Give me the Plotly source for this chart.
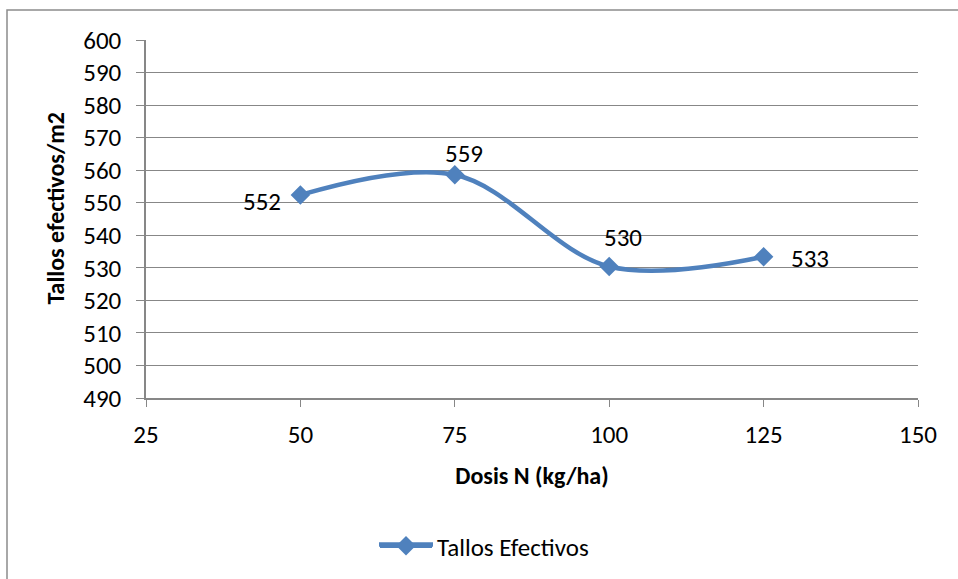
import plotly.graph_objects as go

# Data: nitrogen dose vs. effective tillers per m2
dosis = [50, 75, 100, 125]
tallos = [552.4, 558.6, 530.4, 533.4]
etiquetas = ["552", "559", "530", "533"]
y_ticks = list(range(490, 601, 10))
x_ticks = [25, 50, 75, 100, 125, 150]

# label offsets (pixels) around each point
label_dx = [-38, 9, 14, 46]
label_dy = [-7, 21, 29, -2]

W, H = 958, 579
L, R, T, B = 146, 40, 40, 180
pw, ph = W - L - R, H - T - B

FONT = "Carlito, Lato, sans-serif"
BLUE = "#4F81BD"
GRID = "#878787"
FS = 25

fig = go.Figure()
fig.add_trace(go.Scatter(
    x=dosis, y=tallos, mode="lines+markers", name="Tallos Efectivos",
    line=dict(color=BLUE, width=4.5, shape="spline", smoothing=1.0),
    marker=dict(symbol="diamond", size=15, color=BLUE),
))

for xv, yv, t, dx, dy in zip(dosis, tallos, etiquetas, label_dx, label_dy):
    fig.add_annotation(x=xv, y=yv, text=t, showarrow=False,
                       xshift=dx, yshift=dy,
                       font=dict(family=FONT, size=FS, color="#000000"))

# y-axis title, placed as a rotated annotation
fig.add_annotation(xref="paper", yref="paper",
                   x=(56 - L) / pw, y=1 - (209 - T) / ph,
                   xanchor="center", yanchor="middle", textangle=-90,
                   text="<b>Tallos efectivos/m2</b>", showarrow=False,
                   font=dict(family=FONT, size=24, color="#000000"))

# outer chart border (open to the right and bottom)
fig.add_shape(type="rect", xref="paper", yref="paper",
              x0=(7 - L) / pw, x1=(W + 20 - L) / pw,
              y0=-(H + 20 - T - ph) / ph, y1=1 + (T - 10) / ph,
              line=dict(color="#8C8C8C", width=1.5), fillcolor="rgba(0,0,0,0)",
              layer="below")

# longer legend key line, as in the spreadsheet style
legend_y = -(546 - T - ph) / ph
fig.add_shape(type="line", xref="paper", yref="paper",
              x0=(379 - L) / pw, x1=(433 - L) / pw, y0=legend_y, y1=legend_y,
              line=dict(color=BLUE, width=4.5), layer="below")

fig.update_layout(
    width=W, height=H,
    margin=dict(l=L, r=R, t=T, b=B),
    paper_bgcolor="white", plot_bgcolor="white",
    font=dict(family=FONT, size=FS, color="#000000"),
    showlegend=True,
    legend=dict(orientation="h", x=(375 - L) / pw, xanchor="left",
                y=legend_y, yanchor="middle", itemwidth=52,
                font=dict(family=FONT, size=FS), bgcolor="rgba(0,0,0,0)"),
    xaxis=dict(
        range=[25, 150], tickvals=x_ticks, ticks="outside", ticklen=7,
        tickcolor=GRID, showline=True, linecolor=GRID, linewidth=1.5,
        showgrid=False, zeroline=False, tickfont=dict(size=FS),
        ticklabelstandoff=6,
        title=dict(text="<b>Dosis N (kg/ha)</b>", font=dict(size=24), standoff=18),
    ),
    yaxis=dict(
        range=[490, 600], tickvals=y_ticks, ticks="outside", ticklen=8,
        tickcolor=GRID, showline=True, linecolor=GRID, linewidth=1.5,
        showgrid=True, gridcolor=GRID, gridwidth=1, zeroline=False,
        tickfont=dict(size=FS), ticklabelstandoff=10,
    ),
)

fig.write_html("out.html")
